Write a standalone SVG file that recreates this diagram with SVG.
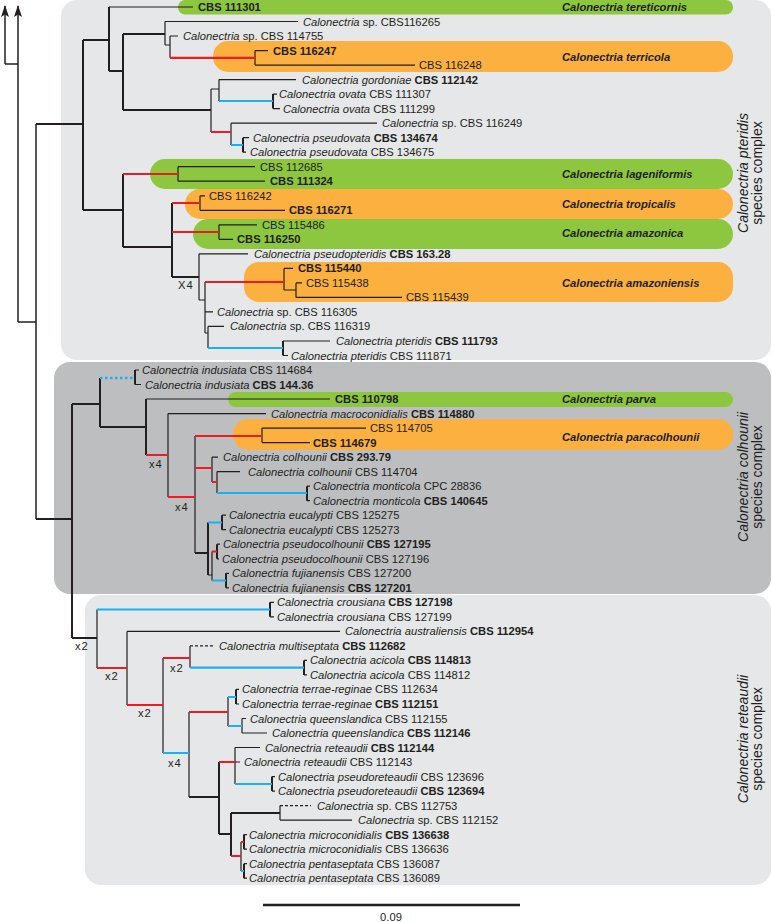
<svg xmlns="http://www.w3.org/2000/svg" width="772" height="922" viewBox="0 0 772 922">
<style>
text{font-family:"Liberation Sans",Arial,sans-serif;font-size:11.2px;fill:#231f20}
.i{font-style:italic}
.b{font-weight:bold}
.sp{font-weight:bold;font-style:italic}
.cx{font-size:14px}
.e{fill:none;stroke:#231f20;stroke-width:1.2}
.E{fill:none;stroke:#231f20;stroke-width:2}
.R{fill:none;stroke:#231f20;stroke-width:1.5}
.d{fill:none;stroke:#231f20;stroke-width:1.2;stroke-dasharray:3 2}
.r{fill:none;stroke:#ed1c24;stroke-width:2.2}
.u{fill:none;stroke:#1cb0ec;stroke-width:2.2}
.ud{fill:none;stroke:#1cb0ec;stroke-width:2.5;stroke-dasharray:2.5 2.5}
.g{fill:#8dc63f}
.o{fill:#fbb040}
</style>
<defs>
<marker id="ah" viewBox="0 0 12 8" refX="11" refY="4" markerWidth="12" markerHeight="8" markerUnits="userSpaceOnUse" orient="auto">
<path d="M0,0 L12,4 L0,8 L2.5,4 Z" fill="#231f20"/>
</marker>
</defs>
<rect width="772" height="922" fill="#ffffff"/>
<g id="complexes">
<rect x="61" y="0" width="710" height="360" rx="16" fill="#e6e7e8"/>
<rect x="54" y="362" width="717" height="232" rx="16" fill="#bcbec0"/>
<rect x="85" y="595" width="686" height="290" rx="16" fill="#e6e7e8"/>
</g>
<g id="species-bars">
<rect class="g" x="178" y="0" width="555" height="14.5" rx="7.2"/>
<rect class="o" x="213" y="41" width="520" height="31" rx="15"/>
<rect class="g" x="150" y="159" width="583" height="30" rx="15"/>
<rect class="o" x="185" y="189" width="548" height="30" rx="15"/>
<rect class="g" x="193" y="219" width="540" height="30" rx="15"/>
<rect class="o" x="244" y="262" width="489" height="40" rx="15"/>
<rect class="g" x="228" y="392" width="505" height="15" rx="7.5"/>
<rect class="o" x="233" y="419" width="500" height="31" rx="15"/>
</g>
<g id="connectors">
<path class="R" d="M5,64 V6" marker-end="url(#ah)"/>
<path class="R" d="M18,322 V6" marker-end="url(#ah)"/>
<path class="R" d="M5,64 H18 M18,322 H36 M36,124 V519"/>
<path class="E" d="M36,124 H83 M83,40 V210 M83,40 H109 M109,7 V71 M109,71 H123 M123,34 V110 M123,34 H165 M123,110 H211 M83,210 H123 M123,174 V247 M123,247 H172 M172,203 V277 M172,277 H199 M36,519 H72 M72,404 V638 M72,404 H100 M100,378 V427 M100,427 H146 M146,399 V455 M195,553 H208 M208,522.5 V575 M72,638 H97 M189,797 H219 M219,762 V834 M219,834 H231 M231,813 V856 M231,813 H280 M273,94.1 V108.6 M243,137.7 V152.2 M283,341 V355.5 M135,370 V384.5 M307,486.2 V500.7 M222,515.2 V529.7 M217,544.2 V558.8 M226,573.3 V587.8 M270,602.3 V616.8 M304,660.4 V674.9 M236,689.4 V704 M272,776.6 V791.1 M244,834.6 V849.2 M244,863.7 V878.2"/>
<path class="e" d="M109,7 H193 M165,21.5 V45 M165,21.5 H298 M165,45 H170 M170,36 V57.8 M170,36 H178 M255,50.6 V65.1 M255,50.6 H268 M255,65.1 H415 M211,89 V132 M211,89 H219 M219,79.6 V101 M219,79.6 H296 M273,94.1 H277 M273,108.6 H280 M231,123.2 V145 M231,123.2 H377 M243,137.7 H249 M243,152.2 H246 M178,166.7 V181.2 M178,166.7 H255 M178,181.2 H265 M200,195.8 V210.3 M200,195.8 H205 M200,210.3 H285 M219,224.8 V239.3 M219,224.8 H257 M219,239.3 H233 M199,253.8 V300 M199,253.8 H248 M199,300 H205 M205,282 V333 M284,268.4 V290 M284,268.4 H293 M284,290 H296 M296,282.9 V297.4 M296,282.9 H302 M296,297.4 H402 M205,311.9 H213 M205,333 H208 M208,326.4 V348 M208,326.4 H224 M283,341 H330 M283,355.5 H288"/>
<path class="e" d="M135,370 H139 M135,384.5 H141 M146,399 H330 M168,413.6 V497 M168,413.6 H266 M195,436 V553 M262,428.1 V442.6 M262,428.1 H366 M262,442.6 H310 M212,457.1 V482 M212,457.1 H218 M217,471.6 V493 M217,471.6 H240 M307,486.2 H310 M307,500.7 H310 M222,515.2 H226 M222,529.7 H226 M208,575 H212 M212,551.5 V580.5 M217,544.2 H220 M217,558.8 H219 M226,573.3 H229 M226,587.8 H229"/>
<path class="e" d="M97,609.5 V668 M270,602.3 H274 M270,616.8 H274 M127,631.4 V705 M127,631.4 H340 M163,658 V753 M190,645.9 V667.6 M304,660.4 H307 M304,674.9 H307 M189,712 V797 M228,697 V726 M236,689.4 H239 M236,704 H239 M242,718.5 V733 M242,718.5 H246 M242,733 H267 M235,747.5 V784 M235,747.5 H260 M235,762 H240 M272,776.6 H275 M272,791.1 H275 M280,805.6 V820.1 M280,820.1 H352 M241,842 V871 M244,834.6 H247 M244,849.2 H247 M244,863.7 H247 M244,878.2 H247"/>
<path class="d" d="M190,645.9 H215 M280,805.6 H311"/>
<path class="r" d="M170,57.8 H255 M211,132 H231 M123,174 H178 M172,203 H200 M172,232 H219 M205,282 H284 M146,455 H168 M168,497 H195 M195,436 H262 M195,468 H212 M212,482 H217 M212,551.5 H217 M97,668 H127 M127,705 H163 M163,658 H190 M189,712 H228 M219,762 H235 M231,856 H241 M241,842 H244"/>
<path class="u" d="M219,101 H273 M231,145 H243 M208,348 H283 M217,493 H307 M208,522.5 H222 M212,580.5 H226 M97,609.5 H270 M190,667.6 H304 M163,753 H189 M228,697 H236 M228,726 H242 M235,784 H272 M241,871 H244"/>
<path class="ud" d="M100,378 H135"/>
<path class="E" d="M263,905 H520" style="stroke-width:2.5"/>
</g>
<g id="multipliers">
<text x="178" y="289" letter-spacing="1">X4</text>
<text x="149" y="468" letter-spacing="1">x4</text>
<text x="175" y="511" letter-spacing="1">x4</text>
<text x="75" y="650" letter-spacing="1">x2</text>
<text x="105" y="680" letter-spacing="1">x2</text>
<text x="138" y="717" letter-spacing="1">x2</text>
<text x="170" y="672" letter-spacing="1">x2</text>
<text x="168" y="767" letter-spacing="1">x4</text>
</g>
<g id="scale"><text x="391" y="921" text-anchor="middle">0.09</text></g>
<g id="species-names">
<text class="sp" x="562" y="11">Calonectria tereticornis</text>
<text class="sp" x="562" y="61">Calonectria terricola</text>
<text class="sp" x="562" y="178">Calonectria lageniformis</text>
<text class="sp" x="562" y="208">Calonectria tropicalis</text>
<text class="sp" x="562" y="237">Calonectria amazonica</text>
<text class="sp" x="562" y="287">Calonectria amazoniensis</text>
<text class="sp" x="562" y="403">Calonectria parva</text>
<text class="sp" x="562" y="441">Calonectria paracolhounii</text>
</g>
<g id="complex-labels">
<text class="cx" transform="translate(748,173) rotate(-90)" text-anchor="middle"><tspan class="i">Calonectria pteridis</tspan></text>
<text class="cx" transform="translate(762,173) rotate(-90)" text-anchor="middle">species complex</text>
<text class="cx" transform="translate(748,477) rotate(-90)" text-anchor="middle"><tspan class="i">Calonectria colhounii</tspan></text>
<text class="cx" transform="translate(762,477) rotate(-90)" text-anchor="middle">species complex</text>
<text class="cx" transform="translate(748,739) rotate(-90)" text-anchor="middle"><tspan class="i">Calonectria reteaudii</tspan></text>
<text class="cx" transform="translate(762,739) rotate(-90)" text-anchor="middle">species complex</text>
</g>
<g id="taxa">
<g id="t01"><text x="198" y="11" class="b">CBS 111301</text></g>
<g id="t02"><text x="303" y="25.5"><tspan class="i">Calonectria</tspan> sp. CBS116265</text></g>
<g id="t03"><text x="183" y="40"><tspan class="i">Calonectria</tspan> sp. CBS 114755</text></g>
<g id="t04"><text x="273" y="54.6" class="b">CBS 116247</text></g>
<g id="t05"><text x="419" y="69.1">CBS 116248</text></g>
<g id="t06"><text x="302" y="83.6"><tspan class="i">Calonectria gordoniae</tspan> <tspan class="b">CBS 112142</tspan></text></g>
<g id="t07"><text x="279" y="98.1"><tspan class="i">Calonectria ovata</tspan> CBS 111307</text></g>
<g id="t08"><text x="283" y="112.6"><tspan class="i">Calonectria ovata</tspan> CBS 111299</text></g>
<g id="t09"><text x="382" y="127.2"><tspan class="i">Calonectria</tspan> sp. CBS 116249</text></g>
<g id="t10"><text x="253" y="141.7"><tspan class="i">Calonectria pseudovata</tspan> <tspan class="b">CBS 134674</tspan></text></g>
<g id="t11"><text x="250" y="156.2"><tspan class="i">Calonectria pseudovata</tspan> CBS 134675</text></g>
<g id="t12"><text x="260" y="170.7">CBS 112685</text></g>
<g id="t13"><text x="270" y="185.2" class="b">CBS 111324</text></g>
<g id="t14"><text x="209" y="199.8">CBS 116242</text></g>
<g id="t15"><text x="289" y="214.3" class="b">CBS 116271</text></g>
<g id="t16"><text x="262" y="228.8">CBS 115486</text></g>
<g id="t17"><text x="237" y="243.3" class="b">CBS 116250</text></g>
<g id="t18"><text x="254" y="257.8"><tspan class="i">Calonectria pseudopteridis</tspan> <tspan class="b">CBS 163.28</tspan></text></g>
<g id="t19"><text x="298" y="272.4" class="b">CBS 115440</text></g>
<g id="t20"><text x="306" y="286.9">CBS 115438</text></g>
<g id="t21"><text x="406" y="301.4">CBS 115439</text></g>
<g id="t22"><text x="217" y="315.9"><tspan class="i">Calonectria</tspan> sp. CBS 116305</text></g>
<g id="t23"><text x="230" y="330.4"><tspan class="i">Calonectria</tspan> sp. CBS 116319</text></g>
<g id="t24"><text x="336" y="345"><tspan class="i">Calonectria pteridis</tspan> <tspan class="b">CBS 111793</tspan></text></g>
<g id="t25"><text x="291" y="359.5"><tspan class="i">Calonectria pteridis</tspan> CBS 111871</text></g>
<g id="t26"><text x="142" y="374"><tspan class="i">Calonectria indusiata</tspan> CBS 114684</text></g>
<g id="t27"><text x="145" y="388.5"><tspan class="i">Calonectria indusiata</tspan> <tspan class="b">CBS 144.36</tspan></text></g>
<g id="t28"><text x="335" y="403" class="b">CBS 110798</text></g>
<g id="t29"><text x="271" y="417.6"><tspan class="i">Calonectria macroconidialis</tspan> <tspan class="b">CBS 114880</tspan></text></g>
<g id="t30"><text x="370" y="432.1">CBS 114705</text></g>
<g id="t31"><text x="313" y="446.6" class="b">CBS 114679</text></g>
<g id="t32"><text x="223" y="461.1"><tspan class="i">Calonectria colhounii</tspan> <tspan class="b">CBS 293.79</tspan></text></g>
<g id="t33"><text x="248" y="475.6"><tspan class="i">Calonectria colhounii</tspan> CBS 114704</text></g>
<g id="t34"><text x="313" y="490.2"><tspan class="i">Calonectria monticola</tspan> CPC 28836</text></g>
<g id="t35"><text x="313" y="504.7"><tspan class="i">Calonectria monticola</tspan> <tspan class="b">CBS 140645</tspan></text></g>
<g id="t36"><text x="229" y="519.2"><tspan class="i">Calonectria eucalypti</tspan> CBS 125275</text></g>
<g id="t37"><text x="229" y="533.7"><tspan class="i">Calonectria eucalypti</tspan> CBS 125273</text></g>
<g id="t38"><text x="223" y="548.2"><tspan class="i">Calonectria pseudocolhounii</tspan> <tspan class="b">CBS 127195</tspan></text></g>
<g id="t39"><text x="222" y="562.8"><tspan class="i">Calonectria pseudocolhounii</tspan> CBS 127196</text></g>
<g id="t40"><text x="232" y="577.3"><tspan class="i">Calonectria fujianensis</tspan> CBS 127200</text></g>
<g id="t41"><text x="232" y="591.8"><tspan class="i">Calonectria fujianensis</tspan> <tspan class="b">CBS 127201</tspan></text></g>
<g id="t42"><text x="277" y="606.3"><tspan class="i">Calonectria crousiana</tspan> <tspan class="b">CBS 127198</tspan></text></g>
<g id="t43"><text x="277" y="620.8"><tspan class="i">Calonectria crousiana</tspan> CBS 127199</text></g>
<g id="t44"><text x="345" y="635.4"><tspan class="i">Calonectria australiensis</tspan> <tspan class="b">CBS 112954</tspan></text></g>
<g id="t45"><text x="219" y="649.9"><tspan class="i">Calonectria multiseptata</tspan> <tspan class="b">CBS 112682</tspan></text></g>
<g id="t46"><text x="310" y="664.4"><tspan class="i">Calonectria acicola</tspan> <tspan class="b">CBS 114813</tspan></text></g>
<g id="t47"><text x="310" y="678.9"><tspan class="i">Calonectria acicola</tspan> CBS 114812</text></g>
<g id="t48"><text x="242" y="693.4"><tspan class="i">Calonectria terrae-reginae</tspan> CBS 112634</text></g>
<g id="t49"><text x="242" y="708"><tspan class="i">Calonectria terrae-reginae</tspan> <tspan class="b">CBS 112151</tspan></text></g>
<g id="t50"><text x="250" y="722.5"><tspan class="i">Calonectria queenslandica</tspan> CBS 112155</text></g>
<g id="t51"><text x="272" y="737"><tspan class="i">Calonectria queenslandica</tspan> <tspan class="b">CBS 112146</tspan></text></g>
<g id="t52"><text x="265" y="751.5"><tspan class="i">Calonectria reteaudii</tspan> <tspan class="b">CBS 112144</tspan></text></g>
<g id="t53"><text x="244" y="766"><tspan class="i">Calonectria reteaudii</tspan> CBS 112143</text></g>
<g id="t54"><text x="278" y="780.6"><tspan class="i">Calonectria pseudoreteaudii</tspan> CBS 123696</text></g>
<g id="t55"><text x="278" y="795.1"><tspan class="i">Calonectria pseudoreteaudii</tspan> <tspan class="b">CBS 123694</tspan></text></g>
<g id="t56"><text x="317" y="809.6"><tspan class="i">Calonectria</tspan> sp. CBS 112753</text></g>
<g id="t57"><text x="358" y="824.1"><tspan class="i">Calonectria</tspan> sp. CBS 112152</text></g>
<g id="t58"><text x="249" y="838.6"><tspan class="i">Calonectria microconidialis</tspan> <tspan class="b">CBS 136638</tspan></text></g>
<g id="t59"><text x="249" y="853.2"><tspan class="i">Calonectria microconidialis</tspan> CBS 136636</text></g>
<g id="t60"><text x="249" y="867.7"><tspan class="i">Calonectria pentaseptata</tspan> CBS 136087</text></g>
<g id="t61"><text x="249" y="882.2"><tspan class="i">Calonectria pentaseptata</tspan> CBS 136089</text></g>
</g>
</svg>
